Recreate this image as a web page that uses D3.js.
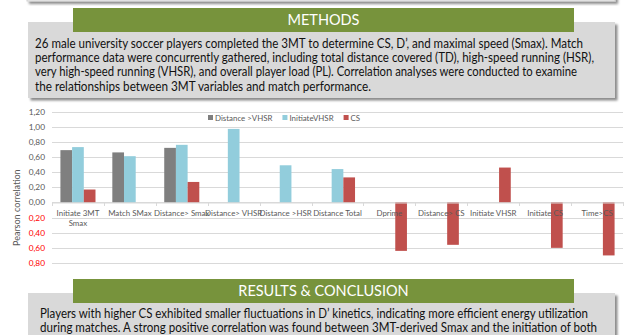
<!DOCTYPE html>
<html>
<head>
<meta charset="utf-8">
<script src="https://cdn.jsdelivr.net/npm/d3@7"></script>
<style>
  html, body { margin: 0; padding: 0; background: #fff; }
  svg { display: block; font-family: Lato, "Open Sans", sans-serif; }
</style>
</head>
<body>
<div id="chart"></div>
<script>
// chart data
const categories = [
  "Initiate 3MT Smax", "Match SMax", "Distance> Smax", "Distance> VHSR",
  "Distance >HSR", "Distance Total", "Dprime", "Distance> CS",
  "Initiate VHSR", "Initiate CS", "Time>CS"
];
const seriesNames = ["Distance >VHSR", "InitiateVHSR", "CS"];
const distanceVHSR = [0.69, 0.66, 0.72, null, null, null, null, null, null, null, null];
const initiateVHSR = [0.73, 0.61, 0.76, 0.97, 0.49, 0.44, null, null, null, null, null];
const csValues = [0.17, null, 0.27, null, null, 0.33, -0.64, -0.56, 0.46, -0.60, -0.70];
const yTicks = [-0.8, -0.6, -0.4, -0.2, 0, 0.2, 0.4, 0.6, 0.8, 1.0, 1.2];

const methodsText = [
  "26 male university soccer players completed the 3MT to determine CS, D\u2019, and maximal speed (Smax). Match",
  "performance data were concurrently gathered, including total distance covered (TD), high-speed running (HSR),",
  "very high-speed running (VHSR), and overall player load (PL). Correlation analyses were conducted to examine",
  "the relationships between 3MT variables and match performance."
];
const resultsText = [
  "Players with higher CS exhibited smaller fluctuations in D\u2019 kinetics, indicating more efficient energy utilization",
  "during matches. A strong positive correlation was found between 3MT-derived Smax and the initiation of both"
];

const WIDTH = 640, HEIGHT = 335;
const colors = ["#7f7f7f", "#92cddc", "#c0504d"];
const green = "#77933c";

const svg = d3.select("#chart").append("svg")
  .attr("width", WIDTH).attr("height", HEIGHT);

// shadow filter for the grey panels
const defs = svg.append("defs");
const f = defs.append("filter").attr("id", "shadow")
  .attr("x", "-5%").attr("y", "-10%").attr("width", "110%").attr("height", "130%");
f.append("feDropShadow").attr("dx", 2.5).attr("dy", 2.5)
  .attr("stdDeviation", 1.2).attr("flood-color", "#000").attr("flood-opacity", 0.45);

// panel above (only its bottom edge is visible)
svg.append("rect").attr("x", 27).attr("y", -20).attr("width", 588).attr("height", 21)
  .attr("fill", "#f4f4f4").attr("stroke", "#cfcfcf").attr("filter", "url(#shadow)");

function panel(y, h, title, titleY) {
  svg.append("rect").attr("x", 28).attr("y", y).attr("width", 587).attr("height", h)
    .attr("fill", "#d9d9d9").attr("filter", "url(#shadow)");
  svg.append("rect").attr("x", 73).attr("y", titleY).attr("width", 501).attr("height", 24)
    .attr("fill", green);
  svg.append("text").attr("x", 323.5).attr("y", titleY + 17)
    .attr("text-anchor", "middle").attr("fill", "#fff")
    .attr("font-size", "14.5px").text(title);
}

// METHODS
panel(22, 76, "METHODS", 8);
const mWidths = [548, 559, 542, 336];
svg.append("g").selectAll("text").data(methodsText).join("text")
  .attr("x", 35).attr("y", (d, i) => 47.5 + i * 14.4)
  .attr("font-size", "12.4px").attr("fill", "#111")
  .attr("textLength", (d, i) => mWidths[i]).attr("lengthAdjust", "spacingAndGlyphs")
  .text(d => d);

// RESULTS & CONCLUSION
panel(293, 60, "RESULTS & CONCLUSION", 279);
const rWidths = [548, 557];
svg.append("g").selectAll("text").data(resultsText).join("text")
  .attr("x", 40).attr("y", (d, i) => 317.5 + i * 14.2)
  .attr("font-size", "12.4px").attr("fill", "#111")
  .attr("textLength", (d, i) => rWidths[i]).attr("lengthAdjust", "spacingAndGlyphs")
  .text(d => d);

// bar chart
const x = d3.scaleBand().domain(categories).range([52, 623]).padding(0);
const xSub = d3.scaleBand().domain(seriesNames).range([0, x.bandwidth()])
  .paddingInner(0).paddingOuter(0.72);
const y = d3.scaleLinear().domain([-0.8, 1.2]).range([263, 111.5]);

const chart = svg.append("g");

// grid lines
chart.append("g").selectAll("line").data(yTicks).join("line")
  .attr("x1", 52).attr("x2", 623)
  .attr("y1", d => Math.round(y(d)) + 0.5).attr("y2", d => Math.round(y(d)) + 0.5)
  .attr("stroke", "#d9d9d9").attr("stroke-width", 1);

// y labels
const fmt = d3.format(".2f");
chart.append("g").selectAll("text").data(yTicks).join("text")
  .attr("x", 45).attr("y", d => y(d) + 3)
  .attr("text-anchor", "end").attr("font-size", "8.3px")
  .attr("fill", d => d < 0 ? "#ff0000" : "#595959")
  .text(d => fmt(Math.abs(d)).replace(".", ","));

chart.append("text")
  .attr("transform", `translate(20,${y(-0.07)}) rotate(-90)`)
  .attr("text-anchor", "middle").attr("font-size", "9px").attr("fill", "#595959")
  .text("Pearson correlation");

// bars
const table = [distanceVHSR, initiateVHSR, csValues];
const barData = [];
seriesNames.forEach((s, si) => {
  categories.forEach((c, ci) => {
    const v = table[si][ci];
    if (v != null) barData.push({ cat: c, series: s, value: v, color: colors[si] });
  });
});
chart.append("g").selectAll("rect").data(barData).join("rect")
  .attr("x", d => x(d.cat) + xSub(d.series))
  .attr("width", xSub.bandwidth())
  .attr("y", d => y(Math.max(0, d.value)))
  .attr("height", d => Math.abs(y(d.value) - y(0)))
  .attr("fill", d => d.color);

// category axis on zero line
const xAxis = d3.axisBottom(x).tickSize(0).tickFormat("");
const axisG = chart.append("g").attr("transform", `translate(0,${Math.round(y(0)) + 0.5})`).call(xAxis);
axisG.select(".domain").attr("stroke", "#d9d9d9");
const bounds = categories.map(c => x(c)).concat([623]);
chart.append("g").selectAll("line").data(bounds).join("line")
  .attr("x1", d => Math.round(d) + 0.5).attr("x2", d => Math.round(d) + 0.5)
  .attr("y1", Math.round(y(0))).attr("y2", Math.round(y(0)) + 4)
  .attr("stroke", "#d9d9d9");

// category labels (three-word labels go on two lines)
const labels = chart.append("g").selectAll("text").data(categories).join("text")
  .attr("x", d => x(d) + x.bandwidth() / 2).attr("y", y(0) + 13.5)
  .attr("text-anchor", "middle").attr("font-size", "7.9px").attr("fill", "#595959")
  .text(d => d);
labels.each(function (d) {
  const words = d.split(" ");
  if (words.length > 2) {
    const t = d3.select(this).text(null);
    const last = words.pop();
    t.append("tspan").attr("x", x(d) + x.bandwidth() / 2).text(words.join(" "));
    t.append("tspan").attr("x", x(d) + x.bandwidth() / 2).attr("dy", 10).text(last);
  }
});

// legend
const legend = chart.append("g").attr("transform", "translate(208,118)");
let lx = 0;
seriesNames.forEach((s, i) => {
  const item = legend.append("g").attr("transform", `translate(${lx},0)`);
  item.append("rect").attr("x", 0).attr("y", -3).attr("width", 5).attr("height", 5)
    .attr("fill", colors[i]);
  const t = item.append("text").attr("x", 7).attr("y", 2.8)
    .attr("font-size", "7.9px").attr("fill", "#595959").text(s);
  lx += 7 + t.node().getComputedTextLength() + 10;
});
</script>
</body>
</html>
